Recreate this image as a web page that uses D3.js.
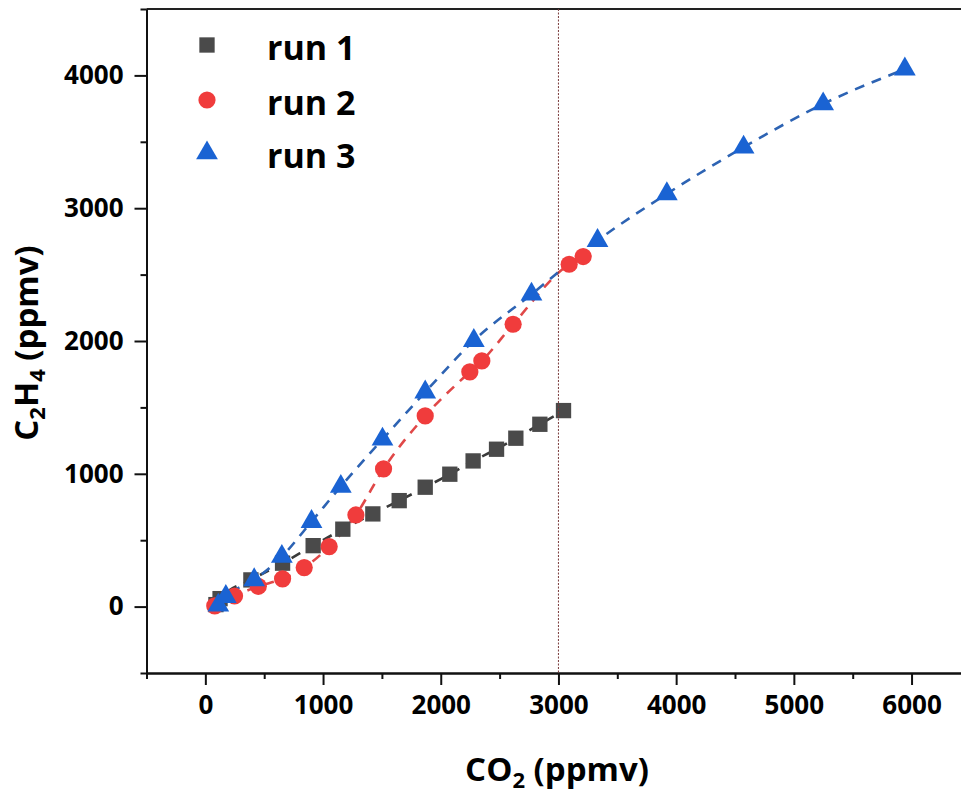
<!DOCTYPE html>
<html>
<head>
<meta charset="utf-8">
<script src="https://cdn.jsdelivr.net/npm/d3@7/dist/d3.min.js"></script>
<style>
  html, body { margin: 0; padding: 0; background: #fff; }
  svg { display: block; }
  text { font-family: "Open Sans", "DejaVu Sans", sans-serif; font-weight: 700; fill: #000; }
</style>
</head>
<body>
<svg id="chart" width="961" height="794"></svg>
<script>
// ---- data (CO2 ppmv, C2H4 ppmv) ----
const seriesNames = ["run 1", "run 2", "run 3"];
const run1X = [90, 125, 387, 656, 916, 1168, 1423, 1647, 1868, 2077, 2275, 2474, 2638, 2842, 3043];
const run1Y = [15, 60, 201, 327, 459, 583, 698, 798, 899, 997, 1097, 1185, 1268, 1373, 1476];
const run2X = [80, 248, 450, 656, 840, 1052, 1279, 1514, 1868, 2247, 2349, 2615, 3091, 3210];
const run2Y = [5, 80, 153, 209, 294, 452, 690, 1037, 1436, 1767, 1850, 2126, 2578, 2636];
const run3X = [110, 174, 415, 650, 902, 1151, 1505, 1868, 2281, 2771, 3332, 3921, 4573, 5249, 5943];
const run3Y = [10, 75, 201, 377, 640, 904, 1260, 1615, 2003, 2352, 2756, 3108, 3459, 3785, 4047];
const xMajorTicks = [0, 1000, 2000, 3000, 4000, 5000, 6000];
const xMinorTicks = [-500, 500, 1500, 2500, 3500, 4500, 5500, 6500];
const yMajorTicks = [0, 1000, 2000, 3000, 4000];
const yMinorTicks = [-500, 500, 1500, 2500, 3500, 4500];
const refLineX = 3000;

const svg = d3.select("#chart");
const x = d3.scaleLinear().domain([-500, 6500]).range([146.5, 970.4]);
const y = d3.scaleLinear().domain([-500, 4500]).range([673, 9]);

const series = [
  { name: seriesNames[0], xs: run1X, ys: run1Y, color: "#4a4a4a", line: "#3a3a3a", shape: "square" },
  { name: seriesNames[1], xs: run2X, ys: run2Y, color: "#f03c3c", line: "#e04848", shape: "circle" },
  { name: seriesNames[2], xs: run3X, ys: run3Y, color: "#1a63d3", line: "#2d63b3", shape: "triangle" }
];

// frame: top border
svg.append("line").attr("x1", x(-500)).attr("x2", 961).attr("y1", y(4500)).attr("y2", y(4500))
  .attr("stroke", "#222").attr("stroke-width", 2);

// axes
function styleAxis(g) {
  g.select(".domain").attr("stroke", "#111").attr("stroke-width", 2);
  g.selectAll(".tick line").attr("stroke", "#111").attr("stroke-width", 2);
  g.selectAll(".tick text").style("font-size", "26px").style("font-weight", 700).attr("fill", "#000");
}
const gx = svg.append("g").attr("transform", `translate(0,${y(-500)})`)
  .call(d3.axisBottom(x).tickValues(xMajorTicks).tickSize(12).tickPadding(11).tickSizeOuter(0).tickFormat(d3.format("d")));
styleAxis(gx);
const gxm = svg.append("g").attr("transform", `translate(0,${y(-500)})`)
  .call(d3.axisBottom(x).tickValues(xMinorTicks).tickSize(6).tickSizeOuter(0).tickFormat(""));
styleAxis(gxm);
const gy = svg.append("g").attr("transform", `translate(${x(-500)},0)`)
  .call(d3.axisLeft(y).tickValues(yMajorTicks).tickSize(12).tickPadding(11).tickSizeOuter(0).tickFormat(d3.format("d")));
styleAxis(gy);
const gym = svg.append("g").attr("transform", `translate(${x(-500)},0)`)
  .call(d3.axisLeft(y).tickValues(yMinorTicks).tickSize(6).tickSizeOuter(0).tickFormat(""));
styleAxis(gym);

// axis titles
const xt = svg.append("text").attr("x", 557).attr("y", 781).attr("text-anchor", "middle").style("font-size", "33px");
xt.append("tspan").text("CO");
xt.append("tspan").attr("dy", 7).style("font-size", "22px").text("2");
xt.append("tspan").attr("dy", -7).text(" (ppmv)");

const yt = svg.append("text").attr("transform", "translate(38,343) rotate(-90)").attr("text-anchor", "middle").style("font-size", "33px");
yt.append("tspan").text("C");
yt.append("tspan").attr("dy", 7).style("font-size", "22px").text("2");
yt.append("tspan").attr("dy", -7).text("H");
yt.append("tspan").attr("dy", 7).style("font-size", "22px").text("4");
yt.append("tspan").attr("dy", -7).text(" (ppmv)");

// dashed lines
const lineGen = d3.line().x(d => x(d[0])).y(d => y(d[1])).curve(d3.curveMonotoneX);
series.forEach(s => {
  const pts = s.xs.map((v, i) => [v, s.ys[i]]);
  svg.append("path").attr("d", lineGen(pts)).attr("fill", "none")
    .attr("stroke", s.line).attr("stroke-width", 2.6).attr("stroke-dasharray", "10,8");
});

// markers
const symSquare = d3.symbol().type(d3.symbolSquare).size(235);
const symTri = d3.symbol().type(d3.symbolTriangle).size(205);
function drawMarker(g, shape, cx, cy, color) {
  if (shape === "circle") {
    g.append("circle").attr("cx", cx).attr("cy", cy).attr("r", 8.6).attr("fill", color);
  } else if (shape === "square") {
    g.append("path").attr("d", symSquare()).attr("transform", `translate(${cx},${cy})`).attr("fill", color);
  } else {
    g.append("path").attr("d", symTri()).attr("transform", `translate(${cx},${cy})`).attr("fill", color);
  }
}
series.forEach(s => {
  const g = svg.append("g");
  s.xs.forEach((v, i) => drawMarker(g, s.shape, x(v), y(s.ys[i]), s.color));
});

// vertical reference line
svg.append("line").attr("x1", x(refLineX)).attr("x2", x(refLineX)).attr("y1", y(4500)).attr("y2", y(-500))
  .attr("stroke", "#7a3b3b").attr("stroke-width", 1).attr("stroke-dasharray", "2,1.5");

// legend
const legendY = [45, 100, 153];
series.forEach((s, i) => {
  const g = svg.append("g");
  drawMarker(g, s.shape, 207, legendY[i], s.color);
  g.append("text").attr("x", 267).attr("y", legendY[i] + 15).style("font-size", "34px").text(s.name);
});
</script>
</body>
</html>
